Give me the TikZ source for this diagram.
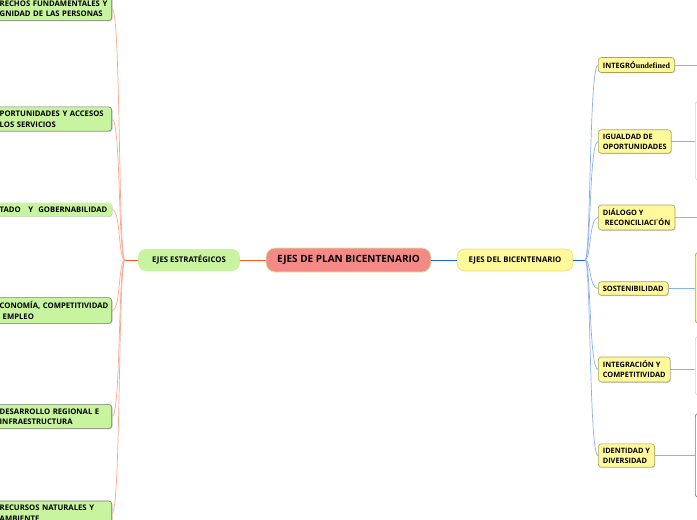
\documentclass[tikz,border=0pt]{standalone}
\usepackage{fontspec}
\setmainfont{Open Sans}
\newfontfamily\undeffont{Liberation Serif}
\usepackage{xcolor}
\usetikzlibrary{arrows.meta, calc, shadows}

\definecolor{rootfill}{HTML}{F58986}
\definecolor{rootline}{HTML}{C9EFA6}
\definecolor{greenfill}{HTML}{C8F4A0}
\definecolor{yellowfill}{HTML}{FFF99C}
\definecolor{yellowline}{HTML}{E9E177}
\definecolor{olive}{HTML}{A9A35A}
\definecolor{boxgrey}{HTML}{7C7C72}
\definecolor{lightgrey}{HTML}{D6D6D6}
\definecolor{redorange}{HTML}{FF5A1F}
\definecolor{salmon}{HTML}{F8A98F}
\definecolor{deepblue}{HTML}{1767E3}
\definecolor{paleblue}{HTML}{8AB0EE}

\begin{document}
\begin{tikzpicture}[x=1pt, y=-1pt, line cap=round, line join=round,
	shade/.style={drop shadow={shadow xshift=0.8pt, shadow yshift=-0.8pt, opacity=.35}},
	rootbox/.style={fill=rootfill, draw=rootline, line width=0.8pt, rounded corners=9pt,
		minimum width=165pt, minimum height=24pt, font=\fontsize{10}{12}\selectfont\bfseries},
	mainbox/.style={rounded corners=8pt, minimum height=22pt, font=\fontsize{7.8}{10}\selectfont\bfseries},
	lbox/.style={fill=greenfill, draw=boxgrey, line width=0.6pt, rounded corners=3pt, shade,
		anchor=east, align=left, text width=109pt, inner xsep=3pt, inner ysep=4pt,
		font=\fontsize{7.7}{10.5}\selectfont\bfseries},
	rbox/.style={fill=yellowfill, draw=olive, line width=0.6pt, rounded corners=3pt, shade,
		anchor=west, align=left, inner xsep=4.5pt, inner ysep=4pt,
		font=\fontsize{7.4}{10}\selectfont\bfseries},
	gbox/.style={draw=#1, line width=0.7pt, rounded corners=3pt, anchor=north west, minimum width=40pt},
	lcurve/.style={draw=salmon, line width=0.7pt},
	rcurve/.style={draw=paleblue, line width=0.7pt}]

	\useasboundingbox (0,0) rectangle (697,520);
	\clip (0,0) rectangle (697,520);

	\node[rootbox] (root) at (348.5,260) {EJES DE PLAN BICENTENARIO};
	\node[mainbox, fill=greenfill, minimum width=102pt] (strat) at (189,260) {EJES ESTRATÉGICOS};
	\node[mainbox, fill=yellowfill, draw=yellowline, line width=0.7pt, minimum width=116pt] (bic) at (515,260) {EJES DEL BICENTENARIO};

	\node[lbox] (l1) at (112,8.5) {RECHOS FUNDAMENTALES Y\\GNIDAD DE LAS PERSONAS};
	\node[lbox] (l2) at (112,119) {PORTUNIDADES Y ACCESOS\\LOS SERVICIOS};
	\node[lbox, draw=none, drop shadow={opacity=0}] (l3) at (112,209.5) {TADO\ \ \ Y\ \ GOBERNABILIDAD};
	\node[lbox] (l4) at (112,310.5) {CONOMÍA, COMPETITIVIDAD\\\hspace{3pt}EMPLEO};
	\node[lbox] (l5) at (112,416.5) {DESARROLLO REGIONAL E\\INFRAESTRUCTURA};
	\node[lbox] (l6) at (112,513) {RECURSOS NATURALES Y\\AMBIENTE};

	\node[rbox] (r1) at (598,65) {INTEGRÓ{\undeffont\fontsize{8}{10}\selectfont undefined}};
	\node[rbox] (r2) at (598,141.5) {IGUALDAD DE\\OPORTUNIDADES};
	\node[rbox] (r3) at (598,217.5) {DIÁLOGO Y\\\hspace{2pt}RECONCILIACI˙ÓN};
	\node[rbox] (r4) at (598,288.5) {SOSTENIBILIDAD};
	\node[rbox] (r5) at (598,369.5) {INTEGRACIÓN Y\\COMPETITIVIDAD};
	\node[rbox] (r6) at (598,455.5) {IDENTIDAD Y\\DIVERSIDAD};

	\coordinate (g1) at (700,65);
	\node[gbox=lightgrey, fill=white, minimum height=79pt] (g2) at (695,101) {};
	\coordinate (g3) at (700,217.5);
	\node[gbox=olive, fill=yellowfill, minimum height=71pt] (g4) at (695,252) {};
	\node[gbox=lightgrey, fill=white, minimum height=59pt] (g5) at (695,336) {};
	\node[gbox=boxgrey, fill=white, minimum height=84pt] (g6) at (695,413) {};

	\coordinate (LJ) at (125,260);
	\coordinate (RJ) at (585,260);

	\draw[redorange, line width=1pt] (root.west) -- (strat.east);
	\draw[deepblue, line width=1pt] (root.east) -- (bic.west);
	\draw[redorange, line width=1pt] (strat.west) -- (LJ);
	\draw[deepblue, line width=1pt] (bic.east) -- (RJ);

	\foreach \n in {l1,l2,l3,l4,l5,l6}
		\draw[lcurve] (LJ) .. controls ($(LJ)+(-7,0)$) and ($(\n.east)+(9,0)$) .. (\n.east);
	\foreach \n in {r1,r2,r3,r4,r5,r6}
		\draw[rcurve] (RJ) .. controls ($(RJ)+(6,0)$) and ($(\n.west)+(-9,0)$) .. (\n.west);

	\draw[rcurve] (r1.east) -- (r1.east -| g1);
	\draw[rcurve] (r2.east) -- (r2.east -| g2.west);
	\draw[rcurve] (r3.east) -- (r3.east -| g3);
	\draw[rcurve] (r4.east) -- (r4.east -| g4.west);
	\draw[rcurve] (r5.east) -- (r5.east -| g5.west);
	\draw[rcurve] (r6.east) -- (r6.east -| g6.west);
\end{tikzpicture}
\end{document}
